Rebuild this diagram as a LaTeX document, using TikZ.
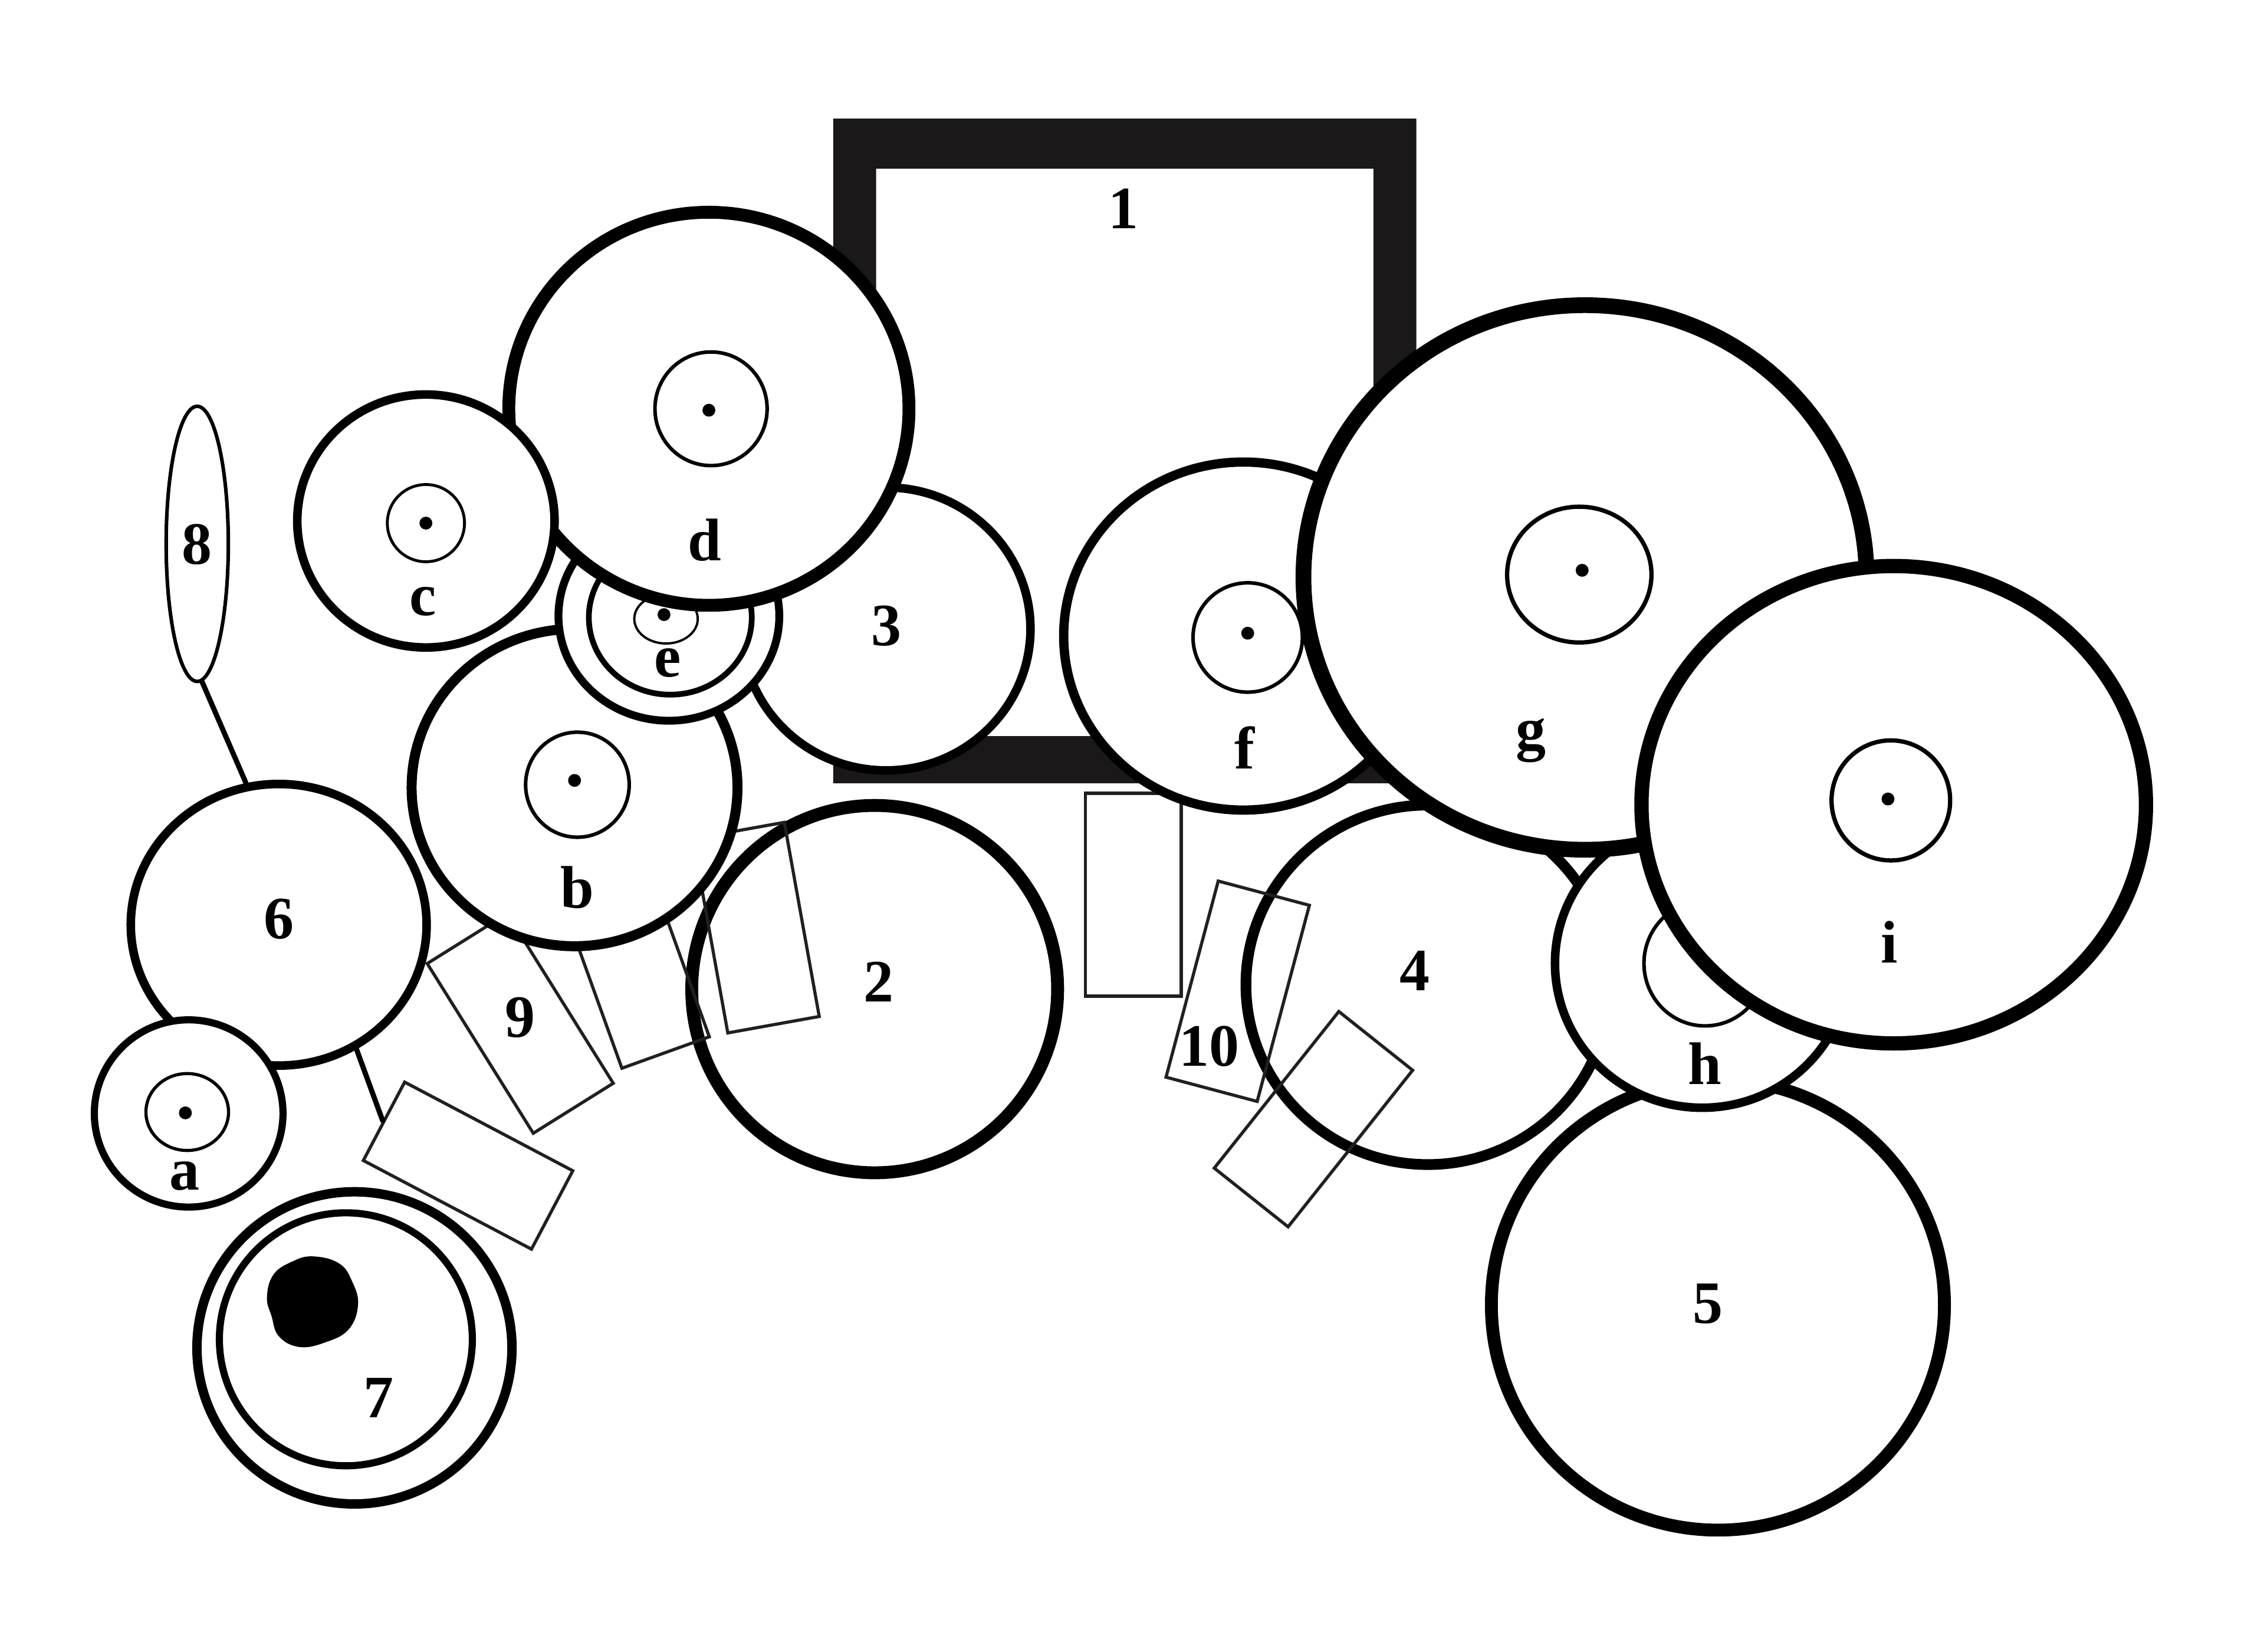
\documentclass[tikz,border=0pt]{standalone}
\usepackage{fontspec}
\setmainfont{Liberation Serif}
\usetikzlibrary{shapes.geometric}
\newcommand{\uu}{0.024235cm}
\definecolor{framecol}{HTML}{1A1819}
\definecolor{platecol}{HTML}{231F20}
\tikzset{
    disc/.style n args={3}{ellipse,draw,fill=white,inner sep=0pt,minimum width=(#1-#3)*\uu,minimum height=(#2-#3)*\uu,line width=#3*\uu},
    plate/.style n args={3}{rectangle,draw=platecol,inner sep=0pt,minimum width=#1*\uu,minimum height=#2*\uu,rotate=#3,line width=2.2*\uu},
    spot/.style={circle,fill=black,inner sep=0pt,minimum size=9*\uu},
    lab/.style={inner sep=0pt,font=\fontsize{29}{29}\selectfont\bfseries},
    link/.style={line width=3.6*\uu,line cap=round}
}
\begin{document}
\begin{tikzpicture}[x=\uu,y=-\uu]
\useasboundingbox (0,0) rectangle (1568,1155.4);
    \fill[framecol,even odd rule] (583,83) rectangle (991,548) (613,118) rectangle (961,515);
    % right hand group
    \node[plate={67}{142}{0}] (plateC) at (793,626) {};
    \node[disc={326}{324}{9}] (disc5) at (1202,913) {};
    \node[disc={262}{259}{7.5}] (disc4) at (999,689) {};
    \node[plate={66}{142}{-14.9}] (plateD) at (866,693.5) {};
    \node[plate={66}{140}{-38.5}] (plateE) at (919,783) {};
    \node[disc={258}{250}{6.5}] (discf) at (870,445) {};
    \node[disc={79}{79}{2.5}] (ringf) at (873,446) {};
    \node[spot] (spotf) at (873,443) {};
    \node[disc={212}{208}{6}] (disch) at (1191,674) {};
    \node[disc={88}{90}{2.5}] (ringh) at (1193,674) {};
    \node[disc={405}{392}{11}] (discg) at (1109,404) {};
    \node[disc={104}{98}{3}] (ringg) at (1105,402) {};
    \node[spot] (spotg) at (1107,399) {};
    \node[disc={363}{344}{10}] (disci) at (1325,563) {};
    \node[disc={86}{87}{3}] (ringi) at (1323,560) {};
    \node[spot] (spoti) at (1321,559) {};
    % left hand group
    \node[disc={265}{266}{9}] (disc2) at (612,692) {};
    \node[plate={133}{62}{-27.8}] (plateA) at (327.5,815.5) {};
    \node[plate={66}{140}{32}] (plateB) at (364,716) {};
    \node[plate={65}{140}{19.8}] (plateF) at (442,670.5) {};
    \node[plate={65}{138}{10.2}] (plateG) at (529,649) {};
    \node[disc={213}{203}{6}] (disc6) at (195,647) {};
    \node[disc={46}{195}{2.5}] (disc8) at (138,380.5) {};
    \draw[link] (disc8.-88) -- (disc6.103.5);
    \draw[link] (disc6.-58) -- (plateA.west);
    \node[disc={137}{136}{5}] (disca) at (132,779) {};
    \node[disc={60}{56}{2.2}] (ringa) at (131,778) {};
    \node[spot] (spota) at (129.7,778.6) {};
    \node[disc={227}{225}{6.6}] (disc7) at (248,943) {};
    \node[disc={182}{182}{5}] (ring7) at (242,937) {};
    \fill plot[smooth cycle,tension=0.7] coordinates {(219,879) (237.4,884) (246.6,897) (250.5,913) (244,930) (228,939) (209.7,942.4) (195.2,935) (190,920.8) (186.8,907.6) (191.3,891.8) (204.5,882.6)};
    \node[disc={208}{204}{6}] (disc3) at (620,440) {};
    \node[disc={235}{229}{7}] (discb) at (402,551) {};
    \node[disc={75}{76}{2.5}] (ringb) at (404,549) {};
    \node[spot] (spotb) at (402,546) {};
    \node[disc={160}{152}{5.5}] (disce) at (468,431) {};
    \node[disc={118}{112}{4}] (ringe) at (469,432) {};
    \node[disc={46}{36}{1.6}] (hube) at (466,433) {};
    \node[spot] (spote) at (464.6,430) {};
    \node[disc={289}{284}{9}] (discd) at (496,286) {};
    \node[disc={81}{82}{2.5}] (ringd) at (497.5,286) {};
    \node[spot] (spotd) at (496,287) {};
    \node[disc={186}{183}{6}] (discc) at (298,364.5) {};
    \node[disc={56}{56}{2}] (ringc) at (298,366) {};
    \node[spot] (spotc) at (298,366) {};
    % labels
    \foreach \xp/\yp/\tg in {786/146/1,615/687/2,620/438/3,990/679/4,1195/912/5,195/643/6,265/978/7,138/381/8,364/712/9,846/732/10,
        129/823/a,404/621/b,296/421/c,493/378/d,467/464/e,871/523/f,1071/518/g,1193/744/h,1322/659/i}{
        \node[lab] (lab\tg) at (\xp,\yp) {\tg};}
\end{tikzpicture}
\end{document}
